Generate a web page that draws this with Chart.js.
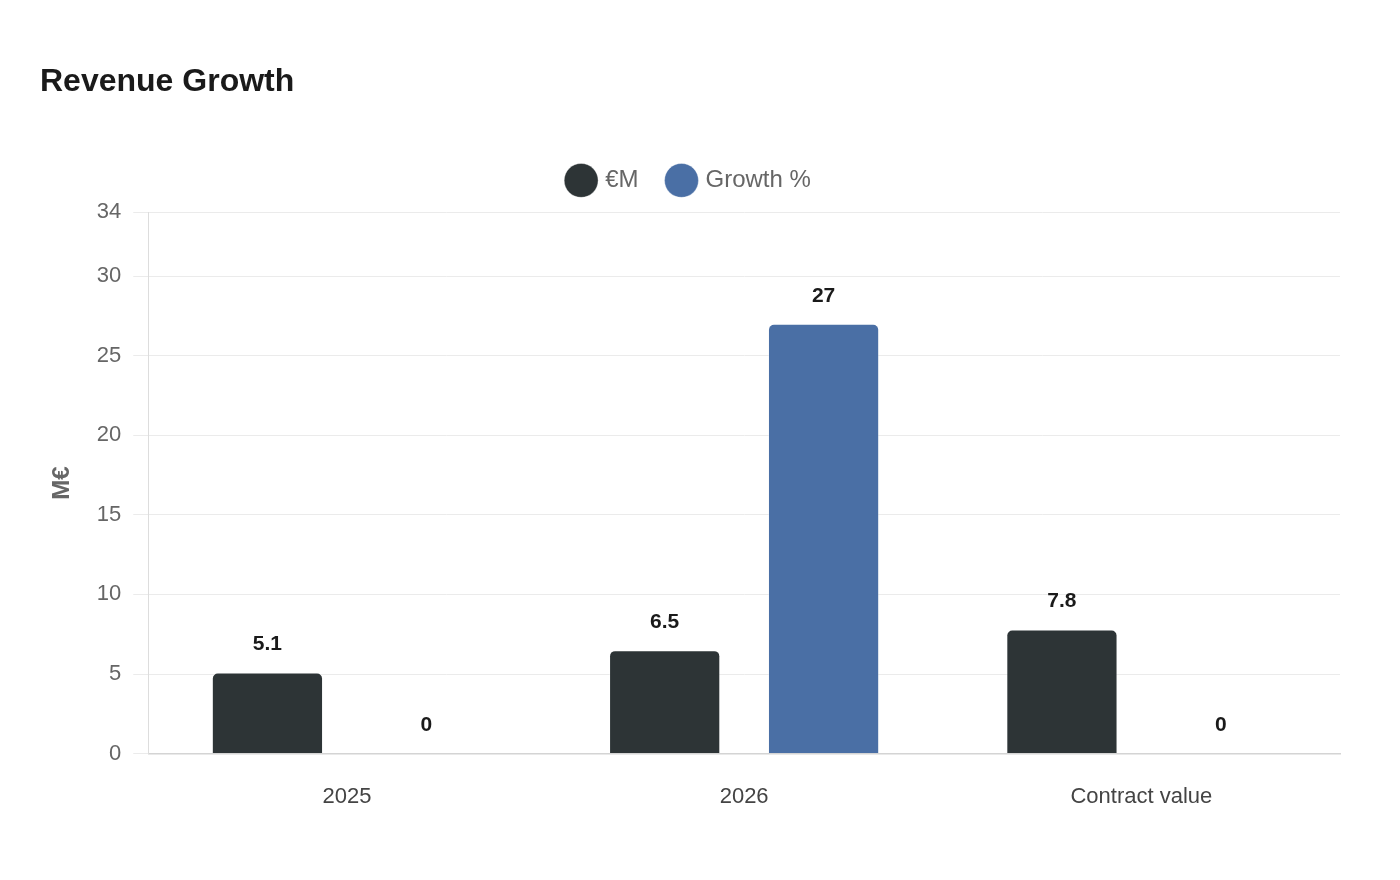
<!DOCTYPE html>
<html>
<head>
<meta charset="utf-8">
<title>Revenue Growth</title>
<script src="https://cdn.jsdelivr.net/npm/chart.js@4.4.1/dist/chart.umd.min.js"></script>
<style>
    html, body { margin: 0; padding: 0; background: #ffffff; }
    #wrap { width: 1400px; height: 880px; position: relative; }
</style>
</head>
<body>
<div id="wrap"><canvas id="revenueChart"></canvas></div>
<script>
const categories = ['2025', '2026', 'Contract value'];
const revenueMillions = [5.1, 6.5, 7.8];
const growthPercent = [0, 27, 0];
const yTickValues = [0, 5, 10, 15, 20, 25, 30, 34];

const fontFamily = '"Liberation Sans", Arial, Helvetica, sans-serif';

// draws the value above each bar, using the bar element positions
const valueLabels = {
    id: 'valueLabels',
    afterDatasetsDraw(chart) {
        const ctx = chart.ctx;
        ctx.save();
        ctx.font = 'bold 21px ' + fontFamily;
        ctx.fillStyle = '#1a1a1a';
        ctx.textAlign = 'center';
        ctx.textBaseline = 'middle';
        chart.data.datasets.forEach((dataset, i) => {
            const meta = chart.getDatasetMeta(i);
            meta.data.forEach((bar, j) => {
                ctx.fillText(String(dataset.data[j]), bar.x, bar.y - 28);
            });
        });
        ctx.restore();
    }
};

// a bit more room under the legend before the plot starts
const legendSpace = {
    id: 'legendSpace',
    beforeLayout(chart) {
        const legend = chart.legend;
        if (legend && !legend._spaced) {
            const fit = legend.fit;
            legend.fit = function () {
                fit.call(this);
                this.height += 10;
            };
            legend._spaced = true;
        }
    }
};

const revenueChartCtx = document.getElementById('revenueChart').getContext('2d');

const revenueChart = new Chart(revenueChartCtx, {
    type: 'bar',
    data: {
        labels: categories,
        datasets: [{
            label: '€M',
            data: revenueMillions,
            backgroundColor: '#2d3436',
            borderColor: 'rgba(255, 255, 255, 0.35)',
            borderWidth: 1,
            borderRadius: 6,
            barPercentage: 0.7,
            categoryPercentage: 0.8
        }, {
            label: 'Growth %',
            data: growthPercent,
            backgroundColor: '#4a6fa5',
            borderColor: 'rgba(255, 255, 255, 0.35)',
            borderWidth: 1,
            borderRadius: 6,
            barPercentage: 0.7,
            categoryPercentage: 0.8
        }]
    },
    options: {
        responsive: true,
        maintainAspectRatio: false,
        animation: false,
        layout: {
            padding: { left: 40, right: 60, top: 43, bottom: 40 }
        },
        plugins: {
            title: {
                display: true,
                text: 'Revenue Growth',
                align: 'start',
                color: '#1a1a1a',
                font: { family: fontFamily, size: 32, weight: 'bold' },
                padding: { top: 20, bottom: 36 }
            },
            legend: {
                display: true,
                position: 'top',
                labels: {
                    usePointStyle: true,
                    pointStyle: 'circle',
                    color: '#666666',
                    font: { family: fontFamily, size: 24 },
                    padding: 31
                }
            },
            tooltip: { enabled: false }
        },
        scales: {
            x: {
                grid: { display: false, drawTicks: false },
                border: { display: true, color: '#d4d4d4', width: 1.5 },
                ticks: {
                    color: '#444444',
                    font: { family: fontFamily, size: 22 },
                    padding: 30
                }
            },
            y: {
                min: 0,
                max: 34,
                afterBuildTicks: (axis) => {
                    axis.ticks = yTickValues.map(v => ({ value: v }));
                },
                grid: { color: '#ebebeb', tickLength: 15 },
                border: { display: true, color: '#dddddd' },
                ticks: {
                    color: '#666666',
                    font: { family: fontFamily, size: 22 },
                    padding: 12
                },
                title: {
                    display: true,
                    text: 'M€',
                    color: '#666666',
                    font: { family: fontFamily, size: 24, weight: 'bold' },
                    padding: { top: 8, bottom: 8 }
                }
            }
        }
    },
    plugins: [valueLabels, legendSpace]
});
</script>
</body>
</html>
